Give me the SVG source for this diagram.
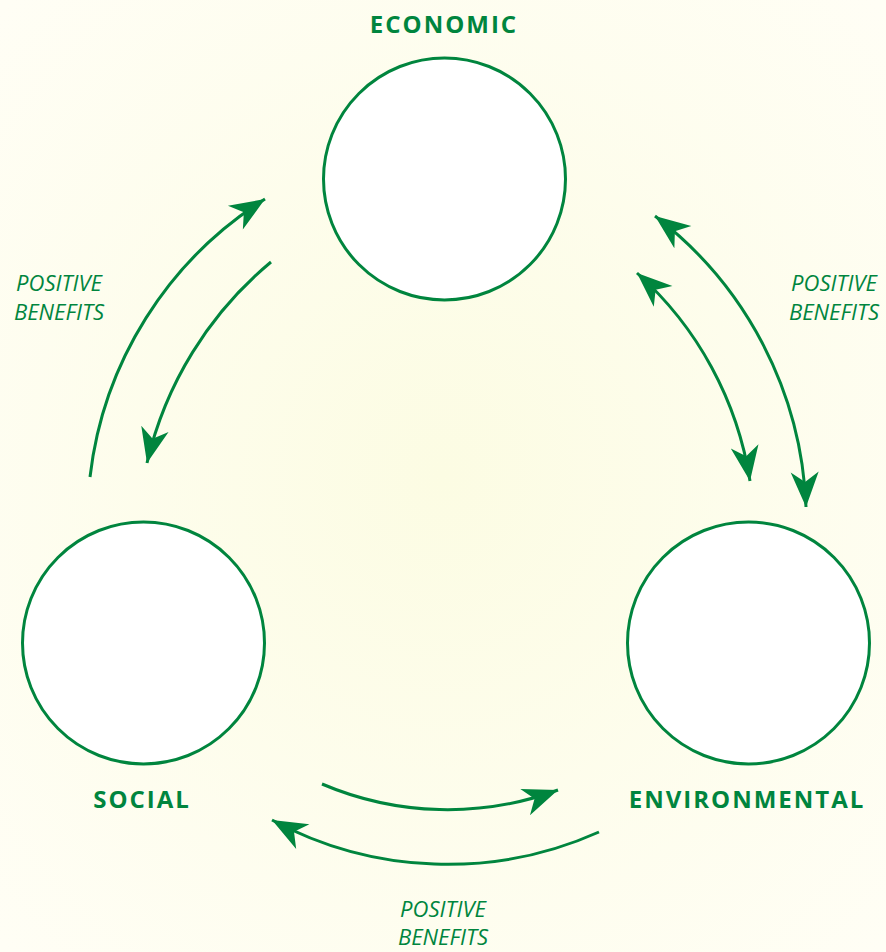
<svg xmlns="http://www.w3.org/2000/svg" width="886" height="952" viewBox="0 0 886 952">
<defs>
<radialGradient id="bg" cx="50%" cy="50%" r="70%">
<stop offset="0" stop-color="#FCFCE3"/>
<stop offset="1" stop-color="#FFFEF5"/>
</radialGradient>
<marker id="ah" viewBox="-36 -16 40 32" refX="0" refY="0" markerWidth="40" markerHeight="32" markerUnits="userSpaceOnUse" orient="auto-start-reverse">
<path d="M0,0 L-35,-14 L-25,0 L-35,14 Z" fill="#00853E"/>
</marker>
</defs>
<style>
.node{fill:#ffffff;stroke:#00853E;stroke-width:3}
.title{font-family:"Open Sans","Noto Sans",sans-serif;font-weight:700;font-size:24px;letter-spacing:2px;fill:#00853E;text-anchor:middle}
.lab{font-family:"Open Sans","Noto Sans",sans-serif;font-style:italic;font-size:22px;fill:#00853E;text-anchor:middle}
.conn{fill:none;stroke:#00853E;stroke-width:3;marker-end:url(#ah)}
.both{marker-start:url(#ah)}
</style>
<rect width="886" height="952" fill="url(#bg)"/>
<g id="economic">
<circle class="node" cx="444.5" cy="179" r="121"/>
<text class="title" x="444" y="33">ECONOMIC</text>
</g>
<g id="social">
<circle class="node" cx="143.5" cy="643" r="121"/>
<text class="title" x="142" y="808">SOCIAL</text>
</g>
<g id="environmental">
<circle class="node" cx="748.5" cy="643" r="121"/>
<text class="title" x="747" y="808">ENVIRONMENTAL</text>
</g>
<g id="connectors">
<path class="conn" d="M90,477 A380,380 0 0 1 265,199"/>
<path class="conn" d="M271,262 A370,370 0 0 0 147,463"/>
<path class="conn both" d="M655,216 A384,384 0 0 1 806,507"/>
<path class="conn both" d="M637,273 A351,351 0 0 1 750,481"/>
<path class="conn" d="M322,784 A320,320 0 0 0 558,790"/>
<path class="conn" d="M599,832 A370,370 0 0 1 272,820"/>
</g>
<g id="labels">
<text class="lab" x="59" y="291">POSITIVE</text>
<text class="lab" x="59" y="320">BENEFITS</text>
<text class="lab" x="834" y="291">POSITIVE</text>
<text class="lab" x="834" y="320">BENEFITS</text>
<text class="lab" x="443" y="917">POSITIVE</text>
<text class="lab" x="443" y="945">BENEFITS</text>
</g>
</svg>
